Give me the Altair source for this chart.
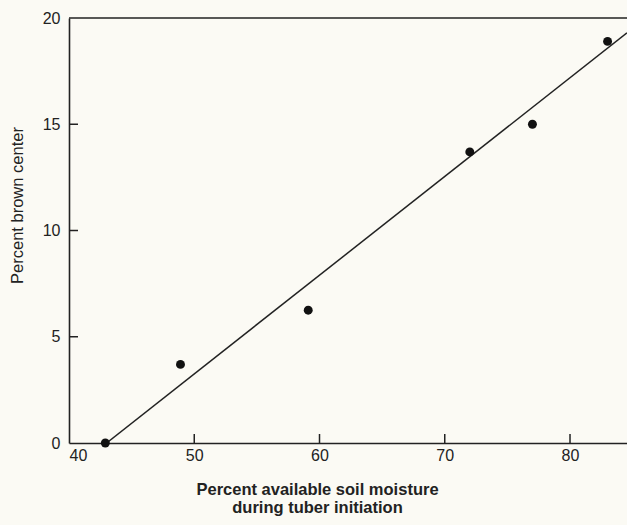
import altair as alt
import pandas as pd

# Observed points
moisture = [42.9, 48.9, 59.1, 72.0, 77.0, 83.0]
brown = [0.0, 3.7, 6.25, 13.7, 15.0, 18.9]

# Fitted line end points
fit_x = [43.0, 84.55]
fit_y = [0.0, 19.3]

x_ticks = [50, 60, 70, 80]
y_ticks = [5, 10, 15]

X_MIN, X_MAX = 40, 84.55
Y_MIN, Y_MAX = 0, 20

W, H = 558, 425
INK = "#222222"
FONT = "Liberation Sans"

pts = pd.DataFrame({"x": moisture, "y": brown})
fit = pd.DataFrame({"x": fit_x, "y": fit_y})
xt = pd.DataFrame({"x": x_ticks})
yt = pd.DataFrame({"y": y_ticks})

xscale = alt.Scale(domain=[X_MIN, X_MAX], nice=False, zero=False)
yscale = alt.Scale(domain=[Y_MIN, Y_MAX], nice=False)

xaxis = alt.Axis(
    values=[40, 50, 60, 70, 80],
    ticks=False,
    grid=False,
    labelFontSize=16,
    labelColor=INK,
    labelFont=FONT,
    labelPadding=4,
    domainColor=INK,
    domainWidth=1.6,
    title=["Percent available soil moisture", "during tuber initiation"],
    titleFont=FONT,
    titleFontSize=16.5,
    titleFontWeight="bold",
    titleColor=INK,
    titleX=248,
    titleY=38,
    titleAnchor="start",
    titleAlign="center",
    titleBaseline="top",
    titleLineHeight=18,
)
yaxis = alt.Axis(
    values=[0, 5, 10, 15, 20],
    ticks=False,
    grid=False,
    labelFontSize=16,
    labelColor=INK,
    labelFont=FONT,
    labelPadding=9,
    domainColor=INK,
    domainWidth=1.6,
    title="Percent brown center",
    titleFont=FONT,
    titleFontSize=16.5,
    titleFontWeight="normal",
    titleColor=INK,
    titleX=-52,
    titleY=187,
    titleAngle=270,
    titleAlign="center",
    titleBaseline="middle",
)

base_pts = alt.Chart(pts).mark_circle(size=80, color="#111111", opacity=1).encode(
    x=alt.X("x:Q", scale=xscale, axis=xaxis),
    y=alt.Y("y:Q", scale=yscale, axis=yaxis),
)

line = alt.Chart(fit).mark_line(color=INK, strokeWidth=1.5, clip=True).encode(
    x=alt.X("x:Q", scale=xscale),
    y=alt.Y("y:Q", scale=yscale),
)

xtick = alt.Chart(xt).mark_rule(color=INK, strokeWidth=1.5).encode(
    x=alt.X("x:Q", scale=xscale),
    y=alt.value(H),
    y2=alt.value(H - 9),
)
ytick = alt.Chart(yt).mark_rule(color=INK, strokeWidth=1.5).encode(
    y=alt.Y("y:Q", scale=yscale),
    x=alt.value(0),
    x2=alt.value(9),
)
top = alt.Chart(pd.DataFrame({"y": [Y_MAX]})).mark_rule(color=INK, strokeWidth=1.6).encode(
    y=alt.Y("y:Q", scale=yscale),
    x=alt.value(0),
    x2=alt.value(W),
)

chart = (
    alt.layer(line, base_pts, xtick, ytick, top)
    .properties(
        width=W,
        height=H,
        autosize=alt.AutoSizeParams(type="none"),
        padding={"left": 69, "top": 18, "right": 0, "bottom": 82},
        background="#fbfaf4",
    )
    .configure_view(stroke=None)
)

chart.save("out.html", embed_options={"renderer": "svg", "actions": False})
